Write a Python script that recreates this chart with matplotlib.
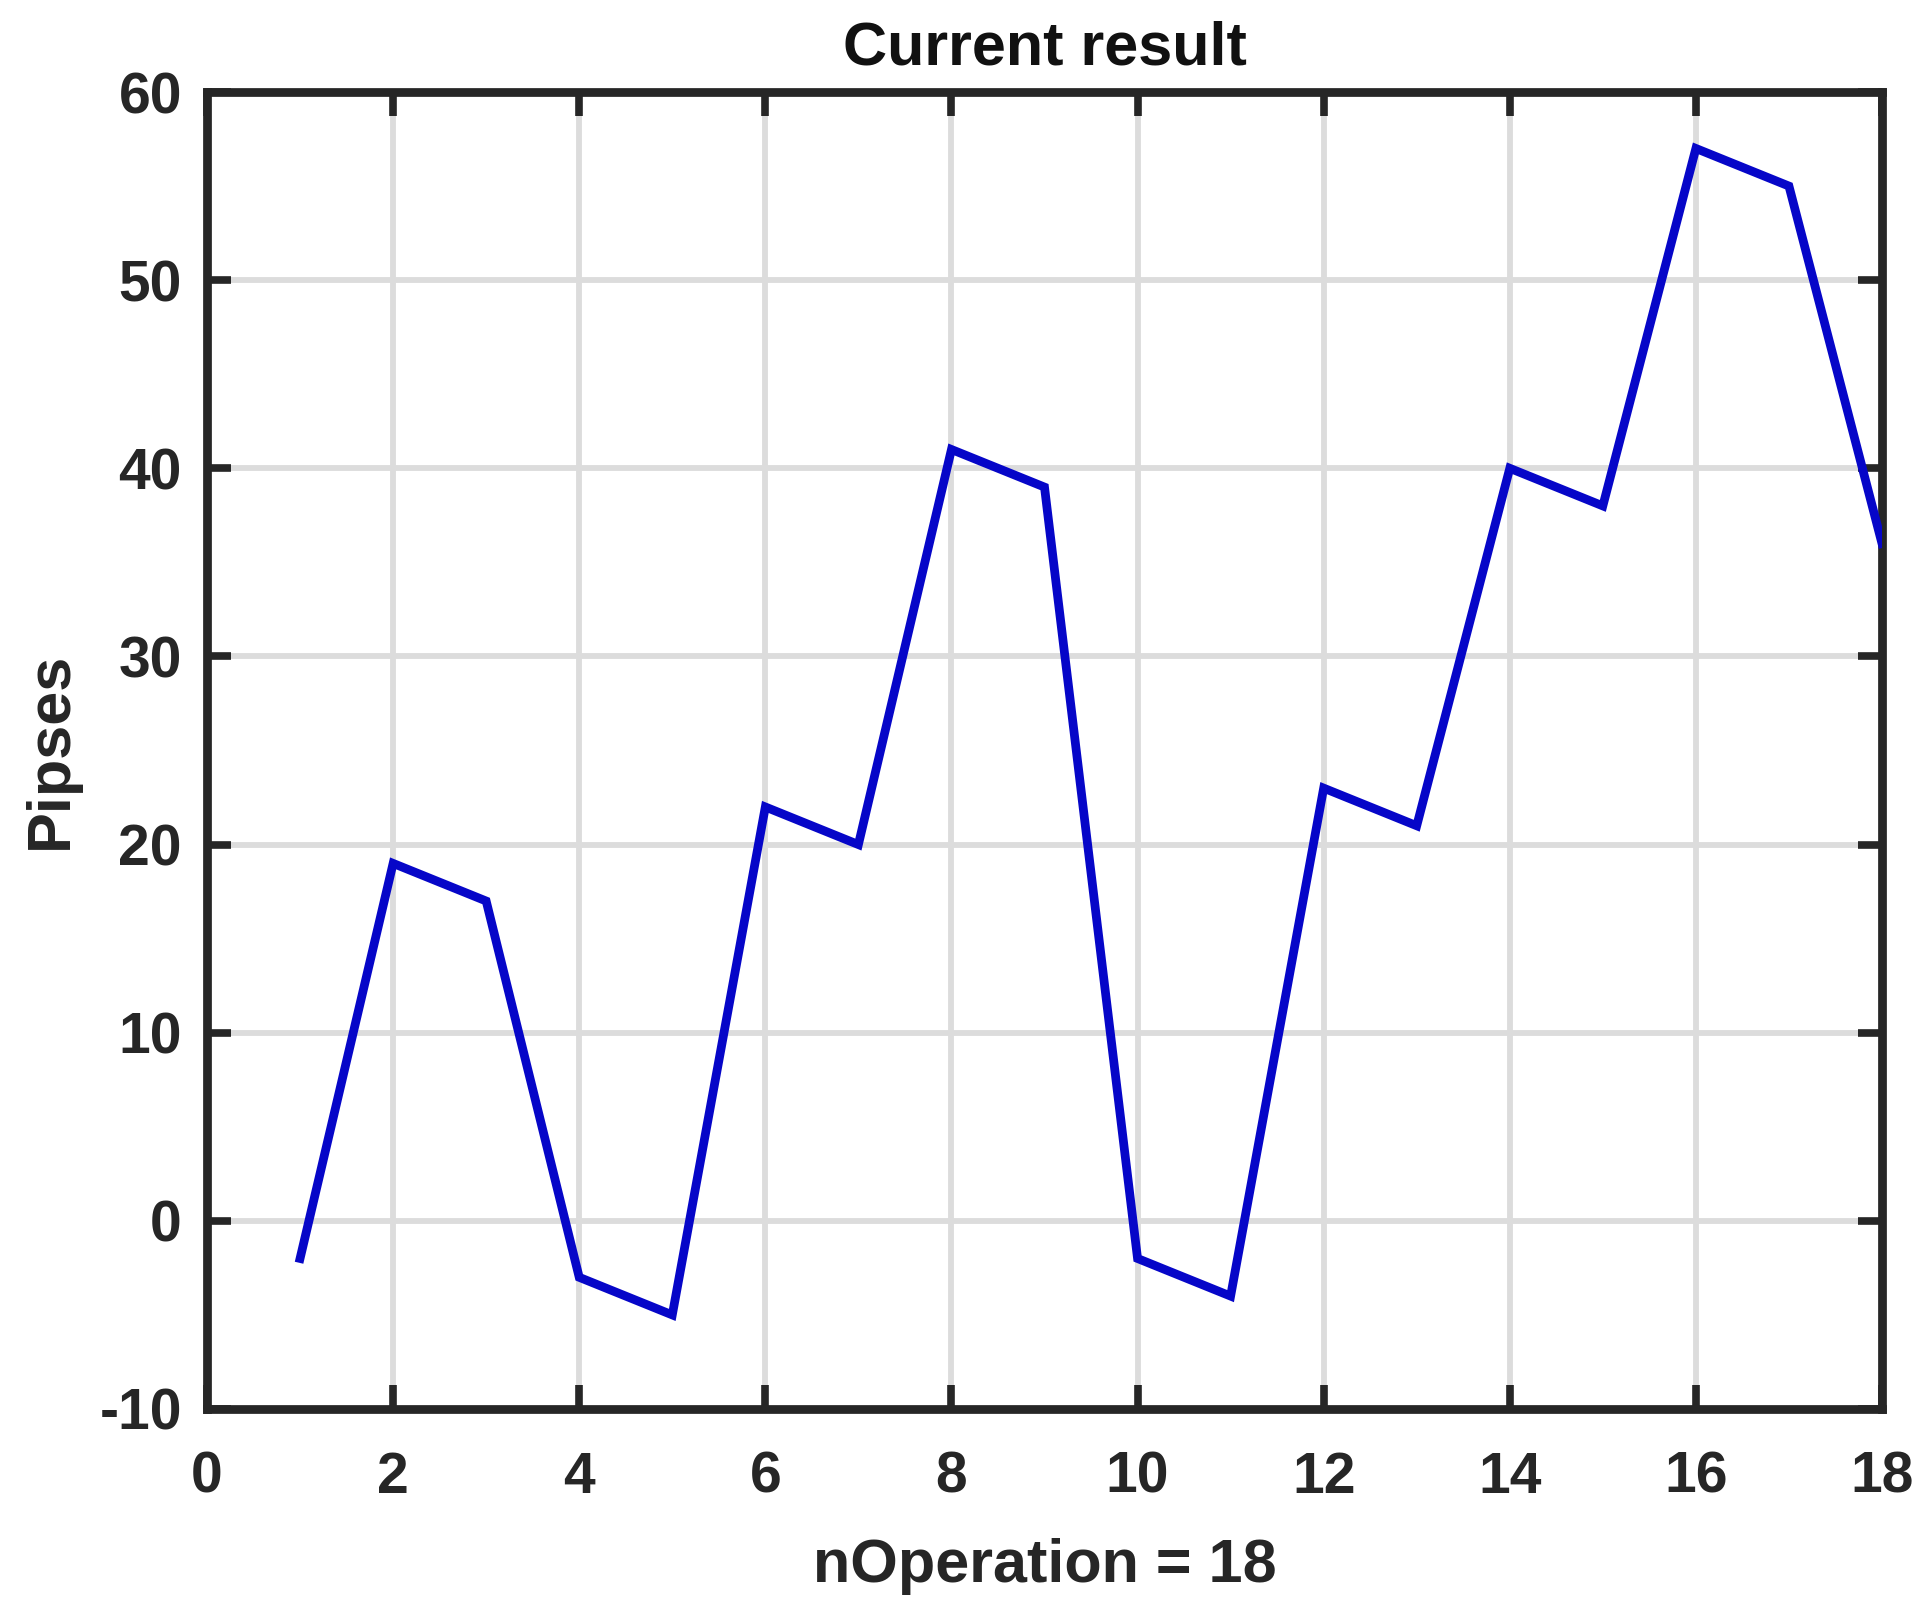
import numpy as np
import matplotlib.pyplot as plt

# operation index and pipses values
n_operation = list(range(1, 19))
pipses = [-2, 19, 17, -3, -5, 22, 20, 41, 39, -2, -4, 23, 21, 40, 38, 57, 55, 36]

x_ticks = list(range(0, 19, 2))
y_ticks = list(range(-10, 61, 10))

plt.rcParams['font.family'] = ['Liberation Sans', 'DejaVu Sans']
plt.rcParams['font.weight'] = 'bold'
plt.rcParams['axes.unicode_minus'] = False

fig = plt.figure(figsize=(19.33, 16.13), dpi=100)
ax = fig.add_axes([207 / 1933, 1 - 1409 / 1613, (1882 - 207) / 1933, (1409 - 92) / 1613])

ax.plot(n_operation, pipses, color='#0606c8', linewidth=6.3, solid_joinstyle='miter', zorder=3)

ax.set_xlim(0, 18)
ax.set_ylim(-10, 60)
ax.set_xticks(x_ticks)
ax.set_yticks(y_ticks)

ax.grid(True, color='#dcdcdc', linewidth=4.2)
ax.set_axisbelow(True)

for s in ax.spines.values():
    s.set_linewidth(6.3)
    s.set_color('#262626')

ax.tick_params(direction='in', length=17, width=5.5, colors='#262626',
               labelsize=41, top=True, right=True)
ax.tick_params(axis='x', pad=30)
ax.tick_params(axis='y', pad=18)
for lab in ax.get_xticklabels() + ax.get_yticklabels():
    lab.set_fontweight('bold')

ax.set_title('Current result', fontsize=44, fontweight='bold', color='#111111', pad=20)
ax.set_xlabel('nOperation = 18', fontsize=44, fontweight='bold', color='#262626', labelpad=24)
ax.set_ylabel('Pipses', fontsize=44, fontweight='bold', color='#262626', labelpad=14)

fig.savefig('out.png', dpi=100)
